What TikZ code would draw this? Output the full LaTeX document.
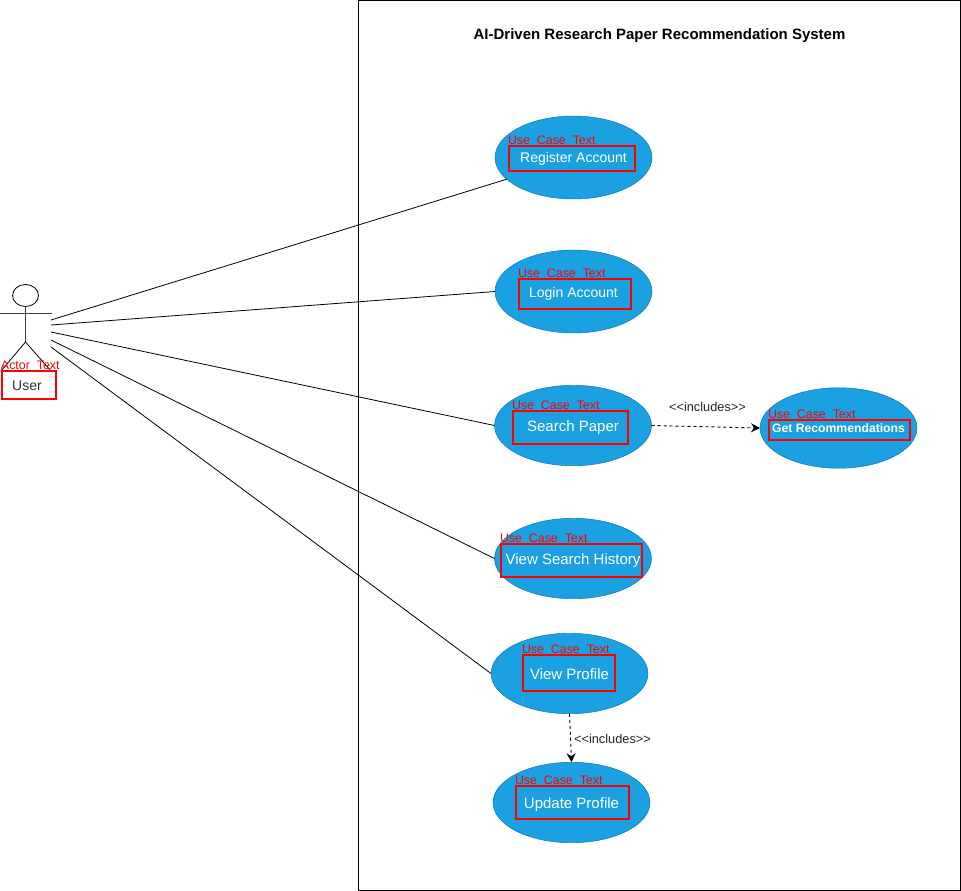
\documentclass[tikz,border=0pt]{standalone}
\usepackage{fontspec}
\setmainfont{Liberation Sans}
\usetikzlibrary{shapes.geometric,arrows.meta}
\definecolor{casefill}{HTML}{1BA1E2}
\definecolor{caseline}{HTML}{006EAF}
\definecolor{usertext}{HTML}{333333}
\tikzset{usecase/.style={ellipse, draw=caseline, fill=casefill, text=white, inner xsep=-40pt, inner ysep=0pt, outer sep=0pt,
      minimum width=157pt, minimum height=80.5pt, text height=11pt, text depth=0pt, font=\fontsize{15}{17}\selectfont}}
\tikzset{redbox/.style={draw=red, line width=2pt, inner sep=0pt, outer sep=0pt, anchor=north west}}
\tikzset{redtext/.style={text=red, inner sep=0pt, outer sep=0pt, anchor=south west, font=\fontsize{12.4}{14}\selectfont}}
\tikzset{stick/.style={draw=black!75, line width=0.8pt}}
\tikzset{assoc/.style={draw=black, line width=0.8pt}}
\tikzset{incl/.style={draw=black, line width=0.9pt, dash pattern=on 3pt off 3pt, -{Stealth[length=9pt,width=9pt]}}}
\tikzset{incltext/.style={inner sep=0pt, text=black!85, font=\fontsize{12.8}{14}\selectfont}}

\begin{document}
\begin{tikzpicture}[x=1pt,y=-1pt]
    \useasboundingbox (0,0) rectangle (961,891);
    \fill[white] (0,0) rectangle (961,891);
    \node[draw=black, line width=0.8pt, inner sep=0pt, outer sep=0pt, anchor=north west, minimum width=602pt, minimum height=890pt] (system) at (358.5,0.5) {};
    \node[inner sep=0pt, font=\bfseries\fontsize{15}{17}\selectfont] (title) at (659.5,36) {AI-Driven Research Paper Recommendation System};

    % actor
    \node[ellipse, draw=black, line width=0.8pt, fill=white, inner sep=0pt, outer sep=0pt, minimum width=26pt, minimum height=22pt] (head) at (25.5,295.5) {};
    \coordinate (hip) at (25.5,342);
    \coordinate (armL) at (0,313);
    \coordinate (armR) at (52,313);
    \coordinate (footL) at (1,371);
    \coordinate (footR) at (51,371);
    \draw[stick] (head.south) -- (hip);
    \draw[stick] (armL) -- (armR);
    \draw[assoc] (footL) -- (hip) -- (footR);
    \node[redbox, minimum width=54pt, minimum height=28pt] (userbox) at (2,371) {};
    \node[inner sep=0pt, text=usertext, font=\fontsize{14}{16}\selectfont] (user) at (27,386) {User};
    \node[redtext] (actortext) at (1,370) {Actor\ \ Text};

    % use cases
    \node[usecase, minimum height=83pt, text height=9pt, font=\fontsize{14}{16}\selectfont] (register) at (573.5,157.5) {Register Account};
    \node[usecase, minimum height=83pt, font=\fontsize{14}{16}\selectfont] (login) at (573.5,291.5) {Login Account};
    \node[usecase] (search) at (573,425.5) {Search Paper};
    \node[usecase, text height=9pt, font=\bfseries\fontsize{12.2}{14}\selectfont] (recommend) at (838.5,428) {Get Recommendations};
    \node[usecase] (history) at (573,558.5) {View Search History};
    \node[usecase] (profile) at (569.5,673.5) {View Profile};
    \node[usecase] (update) at (571.5,802.5) {Update Profile};

    % red boxes
    \node[redbox, minimum width=126pt, minimum height=25pt] (registerbox) at (509,146) {};
    \node[redbox, minimum width=112pt, minimum height=30pt] (loginbox) at (519,279) {};
    \node[redbox, minimum width=115pt, minimum height=33pt] (searchbox) at (513,411) {};
    \node[redbox, minimum width=141pt, minimum height=20pt] (recommendbox) at (769,420) {};
    \node[redbox, minimum width=141pt, minimum height=33pt] (historybox) at (501,544) {};
    \node[redbox, minimum width=92pt, minimum height=36pt] (profilebox) at (523,655) {};
    \node[redbox, minimum width=113pt, minimum height=33pt] (updatebox) at (516,786) {};

    % red labels
    \node[redtext, yshift=1pt, xshift=-1pt] (registertext) at (registerbox.north west) {Use\ \ Case\ \ Text};
    \node[redtext, yshift=1pt, xshift=-1pt] (logintext) at (loginbox.north west) {Use\ \ Case\ \ Text};
    \node[redtext, yshift=1pt, xshift=-1pt] (searchtext) at (searchbox.north west) {Use\ \ Case\ \ Text};
    \node[redtext, yshift=1pt, xshift=-1pt] (recommendtext) at (recommendbox.north west) {Use\ \ Case\ \ Text};
    \node[redtext, yshift=1pt, xshift=-1pt] (historytext) at (historybox.north west) {Use\ \ Case\ \ Text};
    \node[redtext, yshift=1pt, xshift=-1pt] (profiletext) at (profilebox.north west) {Use\ \ Case\ \ Text};
    \node[redtext, yshift=1pt, xshift=-1pt] (updatetext) at (updatebox.north west) {Use\ \ Case\ \ Text};

    % connectors
    \coordinate (hand1) at (51,320);
    \coordinate (hand2) at (51,325);
    \coordinate (hand3) at (51,332);
    \coordinate (hand4) at (51,340);
    \coordinate (hand5) at (51,347);
    \draw[assoc] (hand1) -- (register.198);
    \draw[assoc] (hand2) -- (login.west);
    \draw[assoc] (hand3) -- (search.west);
    \draw[assoc] (hand4) -- (history.west);
    \draw[assoc] (hand5) -- (profile.west);
    \draw[incl] (search.east) -- (recommend.west);
    \draw[incl] (profile.south) -- (update.north);
    \node[incltext] (includes1) at (707.5,407) {<{}<includes>{}>};
    \node[incltext] (includes2) at (612.5,738.5) {<{}<includes>{}>};
\end{tikzpicture}
\end{document}
